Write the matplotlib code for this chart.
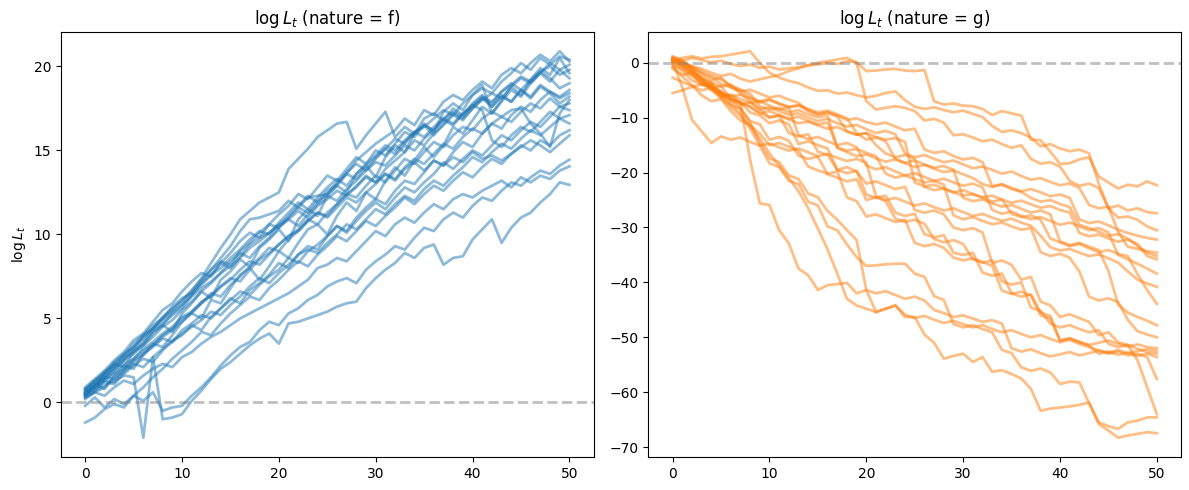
import numpy as np
import matplotlib
matplotlib.use("Agg")
import matplotlib.pyplot as plt

# log L_t paths, t = 0..50
t = np.arange(51)

paths_f = [
    [0.6, 1.0, 1.5, 2.1, 2.6, 3.2, 3.9, 4.4, 5.0, 5.5, 6.1, 6.6, 7.4, 8.3, 9.2, 10.0, 10.9, 11.4, 11.9, 12.2, 12.5,
     13.9, 14.5, 15.1, 15.8, 16.2, 16.6, 16.7, 15.1, 15.9, 16.6, 17.3, 15.8, 16.4, 16.0, 16.9, 17.2, 16.8, 17.5, 17.1, 17.8,
     18.3, 17.6, 18.2, 17.9, 18.6, 18.1, 18.8, 18.4, 17.8, 18.2],
    [0.5, 0.9, 1.6, 2.0, 2.5, 3.1, 3.5, 4.2, 4.6, 5.3, 5.8, 6.4, 7.2, 7.9, 8.6, 9.3, 10.2, 10.9, 11.0, 11.2, 11.4,
     12.0, 11.6, 12.2, 12.3, 12.4, 13.1, 13.6, 14.4, 14.9, 15.4, 15.8, 16.2, 16.9, 16.5, 17.4, 17.1, 17.9, 18.3, 18.0, 18.6,
     19.1, 18.7, 19.5, 19.9, 19.6, 20.2, 20.7, 20.3, 20.9, 20.3],
    [0.8, 1.3, 1.7, 2.4, 2.9, 3.3, 4.0, 4.6, 5.0, 5.7, 6.2, 6.5, 7.1, 7.6, 8.3, 8.0, 8.7, 9.4, 9.8, 10.1, 10.6,
     11.0, 11.6, 11.3, 12.0, 12.4, 12.9, 13.6, 13.3, 14.0, 14.6, 15.1, 14.8, 15.5, 16.1, 16.4, 16.9, 17.4, 17.1, 17.8, 18.3,
     18.7, 18.4, 19.1, 19.6, 20.2, 19.8, 20.5, 20.1, 20.6, 20.4],
    [0.5, 0.9, 1.4, 1.8, 2.3, 2.6, 3.2, 3.6, 4.1, 4.5, 5.1, 5.4, 6.0, 6.3, 6.9, 7.4, 7.2, 7.9, 8.5, 8.9, 9.4,
     9.9, 10.2, 10.8, 11.3, 11.1, 11.8, 12.4, 12.8, 13.5, 13.1, 13.9, 14.4, 14.9, 15.6, 15.3, 16.0, 16.5, 17.1, 16.8, 17.5,
     18.0, 18.4, 18.1, 18.8, 19.3, 19.0, 19.6, 20.2, 19.8, 20.1],
    [0.7, 1.2, 1.5, 2.1, 2.7, 3.0, 3.6, 4.3, 4.7, 5.2, 5.6, 6.3, 6.8, 7.2, 7.7, 8.4, 8.9, 8.6, 9.3, 9.8, 10.4,
     10.9, 10.5, 11.2, 11.8, 12.3, 12.0, 12.7, 13.2, 13.8, 14.3, 14.1, 14.7, 15.3, 15.0, 15.7, 16.2, 16.8, 16.5, 17.2, 17.6,
     18.1, 17.8, 18.5, 18.9, 19.4, 19.1, 19.7, 20.0, 19.5, 19.8],
    [0.4, 1.1, 0.8, 1.6, 2.2, 2.0, 2.9, 3.5, 3.3, 4.0, 4.8, 5.3, 5.0, 6.1, 5.9, 6.8, 7.6, 8.0, 7.3, 8.1, 9.0,
     8.6, 9.5, 10.3, 10.6, 10.0, 11.1, 11.9, 11.4, 12.5, 12.1, 13.2, 14.0, 13.5, 14.4, 15.2, 14.6, 15.3, 16.4, 16.0, 16.8,
     17.6, 17.2, 18.0, 18.8, 18.3, 19.2, 19.9, 19.5, 20.5, 19.6],
    [0.6, 1.0, 1.8, 2.3, 2.1, 3.0, 3.4, 4.1, 4.6, 4.2, 5.3, 5.9, 6.6, 6.2, 7.3, 7.8, 8.5, 8.1, 9.2, 9.7, 10.3,
     9.6, 10.9, 11.5, 11.1, 12.3, 12.9, 12.5, 13.6, 14.1, 13.4, 14.6, 15.3, 14.9, 16.0, 16.6, 16.1, 17.3, 17.8, 17.4, 18.3,
     18.9, 17.2, 17.9, 18.6, 18.2, 19.0, 19.6, 19.1, 19.8, 19.3],
    [0.5, 0.8, 1.2, 1.1, 1.7, 2.2, 2.6, 2.4, 3.1, 3.7, 4.0, 4.6, 4.3, 5.1, 5.6, 6.2, 5.9, 6.7, 7.1, 7.6, 8.3,
     8.0, 8.8, 9.3, 9.1, 9.9, 10.5, 10.2, 11.0, 11.6, 12.1, 11.8, 12.6, 13.2, 13.0, 13.7, 14.4, 14.1, 14.9, 15.5, 15.2,
     16.0, 16.6, 16.3, 17.1, 17.6, 17.3, 18.0, 18.5, 18.2, 18.6],
    [0.9, 1.4, 1.9, 2.5, 3.0, 3.7, 4.1, 4.8, 5.5, 5.9, 6.6, 7.2, 7.7, 7.5, 8.3, 8.9, 9.6, 10.1, 9.8, 10.6, 11.2,
     11.7, 12.4, 12.1, 12.8, 13.5, 13.2, 13.9, 14.6, 14.2, 15.0, 14.7, 15.4, 16.1, 15.8, 16.5, 15.9, 16.6, 17.2, 16.9, 17.5,
     18.1, 17.6, 18.3, 17.9, 18.6, 18.2, 18.9, 18.5, 18.1, 18.4],
    [0.3, 0.7, 1.3, 1.7, 2.0, 2.6, 3.1, 3.4, 4.0, 4.4, 5.0, 5.3, 5.9, 6.4, 6.9, 7.3, 7.9, 8.4, 8.2, 8.8, 9.4,
     9.9, 10.3, 10.9, 10.6, 11.3, 11.8, 12.4, 12.2, 12.9, 13.5, 13.1, 13.8, 14.5, 14.2, 14.9, 15.5, 15.2, 15.9, 16.4, 16.2,
     16.9, 17.3, 17.0, 17.4, 17.5, 16.6, 16.0, 15.2, 17.2, 18.0],
    [0.6, 1.0, 1.5, 1.4, 2.0, 2.5, 2.9, 3.3, 3.8, 3.6, 4.3, 4.7, 5.2, 5.0, 5.6, 6.1, 6.6, 6.4, 7.0, 7.5, 7.9,
     8.6, 8.3, 9.0, 9.4, 9.9, 10.5, 10.1, 10.8, 11.4, 11.9, 11.5, 12.2, 12.8, 12.5, 13.1, 13.6, 14.3, 13.9, 14.5, 15.0,
     14.7, 15.3, 15.9, 15.6, 16.2, 16.7, 16.4, 17.0, 17.6, 17.4],
    [0.7, 1.3, 1.8, 2.2, 2.8, 3.3, 3.8, 4.4, 4.9, 5.4, 5.8, 6.4, 7.0, 7.6, 8.0, 8.6, 9.1, 9.7, 10.2, 10.0, 10.7,
     11.3, 11.9, 11.5, 12.2, 12.8, 13.3, 12.9, 13.6, 14.2, 14.7, 15.3, 15.0, 15.6, 16.1, 15.8, 16.4, 16.9, 16.6, 17.2, 17.7,
     17.4, 15.6, 15.2, 15.9, 16.4, 16.1, 16.7, 17.3, 16.9, 17.1],
    [0.2, 0.6, 0.9, 1.5, 1.8, 2.3, 2.1, 2.7, 3.2, 3.6, 4.1, 4.5, 4.9, 5.4, 5.2, 5.8, 6.3, 6.9, 7.4, 7.1, 7.7,
     8.2, 8.8, 9.1, 8.9, 9.5, 10.0, 10.6, 10.3, 10.9, 11.5, 11.2, 11.8, 12.3, 12.0, 12.7, 13.2, 12.9, 13.5, 14.0, 14.6,
     14.3, 14.9, 15.4, 15.1, 15.7, 16.2, 15.9, 16.4, 16.9, 16.6],
    [0.5, 1.0, 1.4, 1.9, 2.5, 2.9, 3.4, 3.9, 4.5, 4.9, 5.5, 6.0, 6.6, 7.1, 7.7, 8.1, 8.6, 9.2, 9.6, 10.1, 10.5,
     10.9, 11.4, 11.0, 11.7, 12.1, 12.6, 12.3, 12.9, 13.4, 13.1, 13.6, 13.2, 13.9, 14.3, 13.8, 14.4, 14.1, 14.6, 14.3, 14.9,
     14.5, 14.7, 14.4, 14.8, 15.2, 15.6, 15.3, 14.9, 15.4, 15.9],
    [0.8, 1.2, 1.7, 2.3, 2.8, 3.5, 4.0, 4.4, 5.1, 5.6, 6.0, 6.7, 7.3, 7.9, 8.4, 8.2, 9.0, 9.5, 10.1, 10.6, 10.4,
     11.1, 11.7, 12.3, 11.9, 12.6, 13.0, 13.7, 14.2, 13.8, 14.5, 15.1, 15.7, 15.4, 16.0, 16.5, 16.2, 16.9, 17.3, 17.0, 17.7,
     18.2, 17.9, 18.5, 19.0, 18.6, 19.2, 19.7, 19.3, 18.7, 19.0],
    [0.4, 0.9, 1.3, 1.2, 1.9, 2.4, 2.8, 3.4, 3.9, 4.3, 4.8, 5.4, 5.9, 6.5, 6.3, 7.0, 7.5, 8.1, 8.6, 9.2, 9.0,
     9.7, 10.2, 10.8, 11.3, 11.0, 11.6, 12.2, 11.9, 12.5, 13.0, 13.6, 13.3, 14.0, 14.5, 14.2, 14.8, 15.4, 15.1, 15.8, 16.3,
     16.0, 16.6, 17.0, 16.7, 17.3, 17.8, 17.5, 18.1, 17.6, 17.8],
    [0.3, 0.6, 0.4, 0.9, 1.3, 1.1, 1.6, 2.0, 2.3, 2.1, 2.7, 3.0, 3.5, 3.9, 4.2, 4.6, 5.0, 5.3, 5.6, 5.9, 6.2,
     6.5, 6.9, 7.3, 8.0, 8.2, 8.6, 8.4, 9.0, 9.6, 10.2, 9.9, 10.6, 11.0, 10.7, 11.3, 11.8, 11.5, 12.1, 12.4, 12.2,
     12.6, 12.9, 13.2, 12.8, 13.4, 13.1, 13.5, 13.3, 13.8, 14.05],
    [-0.2, 0.3, -0.3, 0.2, -0.1, 0.4, 0.1, 0.6, -0.5, -0.3, -0.2, 0.4, 0.9, 1.5, 2.2, 2.8, 3.3, 3.6, 4.3, 4.8, 4.6,
     5.3, 5.6, 6.1, 6.4, 6.9, 7.2, 7.4, 7.1, 7.9, 8.4, 8.8, 9.3, 9.1, 9.8, 10.4, 10.2, 10.9, 11.3, 11.0, 11.7,
     12.2, 12.0, 12.6, 13.1, 12.9, 13.4, 13.8, 13.6, 14.1, 14.45],
    [-1.2, -0.9, -0.4, -0.1, -0.3, 0.4, 0.9, 1.5, 2.0, 2.6, 3.1, 3.6, 4.2, 4.0, 4.7, 5.3, 5.8, 6.3, 6.1, 6.8, 7.3,
     7.9, 8.4, 8.1, 8.8, 9.3, 9.9, 9.6, 10.2, 10.8, 10.5, 11.1, 11.6, 12.2, 11.8, 12.4, 12.9, 12.6, 13.2, 13.7, 13.4,
     14.0, 14.5, 14.2, 14.8, 15.3, 15.0, 15.6, 15.3, 15.9, 16.2],
    [0.4, 0.7, 1.0, 1.3, 1.6, 1.5, -2.1, 2.7, -1.0, -0.9, -0.7, 0.1, 0.7, 1.4, 2.0, 2.4, 2.9, 3.4, 3.8, 4.1, 3.5,
     4.7, 4.8, 5.0, 5.2, 5.4, 5.7, 5.9, 6.0, 6.8, 7.4, 7.9, 8.3, 8.9, 8.6, 9.2, 9.4, 8.2, 8.6, 8.7, 9.7,
     10.3, 10.9, 9.5, 10.4, 11.0, 11.3, 11.9, 12.4, 13.1, 12.95],
]

paths_g = [
    [0.6, 0.3, 0.9, 0.5, 0.1, 0.4, -0.2, -0.6, -0.3, -0.9, -0.7, -1.2, -1.0, -0.8, -0.5, -0.3, 0.0, -0.2, 0.3, 0.1, -1.5,
     -1.4, -1.2, -1.1, -1.4, -1.5, -1.3, -7.0, -7.6, -7.4, -7.8, -7.9, -8.4, -9.5, -8.8, -9.2, -9.6, -14.0, -14.1, -16.2, -18.4,
     -18.3, -17.6, -17.2, -20.7, -21.8, -22.9, -22.2, -22.5, -21.6, -22.3],
    [0.4, 0.9, 1.2, 0.8, 1.1, 1.2, 1.5, 1.8, 2.1, 0.0, -1.8, -2.7, -3.3, -3.7, -4.5, -5.1, -5.0, -5.6, -5.4, -5.9, -6.3,
     -6.0, -5.5, -5.2, -6.8, -8.0, -8.4, -8.1, -8.6, -9.0, -8.7, -9.3, -9.9, -11.5, -12.6, -12.3, -12.8, -13.6, -15.2, -14.8, -15.6,
     -16.1, -15.8, -16.5, -22.0, -26.5, -26.0, -26.9, -26.5, -27.2, -27.4],
    [0.5, 0.0, -0.6, -1.1, -1.8, -2.4, -2.0, -2.9, -3.4, -3.0, -2.6, -2.2, -1.5, -1.0, -0.4, 0.0, 0.3, 0.6, 0.9, 0.0, -7.0,
     -8.5, -8.2, -7.9, -8.2, -8.8, -10.5, -10.2, -10.9, -13.2, -13.0, -13.6, -14.3, -14.0, -14.8, -15.5, -15.0, -17.5, -18.4, -18.1, -18.9,
     -21.5, -22.4, -22.0, -22.8, -26.5, -28.2, -28.0, -28.6, -29.8, -30.5],
    [-2.7, -3.5, -4.2, -5.0, -4.6, -5.4, -6.1, -5.8, -6.5, -7.2, -6.8, -7.5, -8.1, -7.8, -8.6, -9.3, -9.0, -9.6, -10.4, -10.1, -10.8,
     -11.2, -10.9, -11.6, -12.3, -12.0, -15.8, -16.4, -16.1, -17.0, -17.6, -17.3, -18.1, -22.5, -22.1, -22.8, -23.4, -23.0, -23.6, -24.3, -24.0,
     -24.6, -28.5, -29.2, -28.9, -29.6, -30.4, -31.0, -31.5, -31.9, -32.2],
    [-5.5, -5.0, -4.4, -3.9, -4.6, -5.3, -6.9, -7.6, -7.2, -8.5, -8.1, -8.8, -9.5, -9.2, -10.0, -10.6, -10.2, -11.0, -11.6, -11.3, -12.1,
     -12.8, -12.4, -13.0, -16.5, -17.2, -16.8, -17.5, -18.1, -17.8, -18.5, -19.2, -18.9, -19.5, -20.2, -19.8, -20.6, -21.3, -21.0, -21.7, -22.3,
     -22.0, -22.8, -25.9, -26.5, -26.2, -30.8, -33.5, -33.9, -34.3, -34.6],
    [0.3, -0.5, -1.4, -2.8, -3.5, -4.3, -4.0, -4.9, -5.6, -7.9, -8.5, -8.2, -9.0, -8.6, -9.4, -9.9, -9.6, -15.5, -16.3, -17.0, -16.7,
     -17.4, -18.0, -17.6, -18.3, -19.0, -18.6, -19.3, -19.9, -19.6, -20.3, -21.0, -22.1, -22.6, -22.2, -23.0, -23.5, -24.6, -25.3, -25.0, -25.7,
     -26.3, -29.5, -30.1, -30.8, -31.5, -31.2, -32.0, -33.4, -34.6, -35.2],
    [0.8, 0.2, -0.7, -1.5, -2.3, -3.0, -4.1, -5.6, -7.0, -8.4, -9.9, -9.6, -10.3, -11.0, -10.7, -11.4, -12.0, -11.7, -12.5, -13.1, -12.8,
     -13.5, -14.0, -13.7, -14.4, -21.8, -22.5, -22.2, -22.9, -23.6, -23.2, -23.9, -24.5, -24.2, -24.9, -25.5, -25.1, -25.8, -26.4, -26.1, -26.8,
     -27.3, -31.0, -31.6, -31.3, -32.0, -32.6, -32.2, -33.0, -35.2, -35.8],
    [1.0, 0.4, -1.2, -3.0, -4.6, -6.2, -5.8, -6.6, -7.3, -7.0, -7.8, -8.5, -8.1, -13.2, -13.9, -13.5, -14.3, -15.0, -14.6, -15.4, -18.7,
     -19.4, -19.0, -19.8, -20.5, -20.1, -20.8, -21.5, -21.1, -21.8, -22.4, -22.0, -22.7, -26.8, -27.5, -27.1, -27.9, -28.5, -28.1, -28.8, -29.5,
     -29.1, -29.8, -30.5, -30.1, -30.9, -35.0, -35.8, -36.6, -37.5, -38.4],
    [0.2, -4.5, -10.4, -12.5, -14.6, -13.4, -14.0, -13.6, -14.4, -15.1, -14.7, -15.4, -16.0, -15.6, -16.3, -17.0, -16.6, -17.3, -17.9, -17.5, -18.2,
     -24.3, -25.0, -24.6, -25.3, -26.0, -25.6, -26.3, -26.9, -26.5, -27.2, -27.9, -27.5, -28.2, -28.8, -28.4, -29.1, -29.7, -31.5, -33.6, -34.2,
     -33.9, -34.6, -35.2, -34.9, -35.6, -36.4, -38.0, -39.5, -40.2, -40.8],
    [0.5, -0.2, -1.0, -1.9, -2.6, -3.8, -4.5, -5.2, -4.9, -5.6, -6.3, -6.0, -6.7, -7.3, -8.8, -9.5, -9.1, -9.8, -12.5, -13.1, -12.8,
     -15.0, -16.5, -17.2, -16.8, -17.5, -22.6, -23.2, -22.9, -23.6, -24.2, -23.9, -24.6, -25.3, -24.9, -27.5, -28.1, -27.8, -28.6, -32.0, -32.7,
     -33.4, -33.0, -33.8, -34.5, -34.1, -34.8, -35.2, -38.5, -41.4, -43.9],
    [0.7, 0.1, -0.8, -2.0, -3.1, -2.7, -4.4, -5.0, -6.3, -7.0, -6.6, -7.4, -8.0, -7.7, -8.4, -9.0, -8.7, -9.4, -10.1, -12.8, -14.0,
     -13.6, -14.3, -17.5, -18.2, -17.8, -18.5, -19.1, -18.8, -19.5, -24.6, -25.2, -24.9, -25.6, -26.2, -25.9, -26.6, -27.3, -26.9, -27.6, -32.5,
     -33.2, -32.8, -33.5, -34.1, -37.9, -44.0, -45.5, -46.3, -47.0, -47.8],
    [0.4, -0.9, -2.2, -3.5, -4.1, -5.8, -6.5, -7.3, -8.0, -9.2, -8.8, -9.5, -10.2, -9.8, -10.6, -11.2, -10.9, -15.4, -16.0, -15.7, -16.4,
     -17.0, -20.2, -20.9, -20.5, -21.2, -21.8, -21.5, -22.2, -27.8, -28.5, -28.1, -28.8, -29.4, -29.1, -29.8, -30.4, -30.1, -34.5, -35.2, -34.8,
     -35.5, -38.0, -42.6, -43.3, -42.9, -43.6, -46.8, -48.9, -49.5, -50.0],
    [-1.0, -2.2, -1.8, -3.9, -4.6, -4.2, -6.5, -7.2, -9.0, -9.6, -11.0, -10.5, -11.2, -14.8, -14.3, -15.0, -15.6, -19.5, -19.0, -19.8, -22.0,
     -21.6, -22.3, -23.0, -22.6, -26.8, -27.3, -26.9, -27.6, -30.0, -30.5, -30.1, -30.9, -36.5, -36.0, -36.8, -39.5, -39.0, -43.5, -44.2, -46.3,
     -45.8, -46.5, -47.2, -49.6, -49.1, -50.9, -51.4, -54.2, -59.1, -64.0],
    [0.1, -1.5, -3.2, -4.0, -3.6, -5.8, -7.7, -8.3, -10.6, -11.2, -14.0, -13.5, -14.2, -16.9, -17.5, -17.1, -20.3, -20.9, -21.6, -21.2, -25.0,
     -24.5, -25.2, -28.4, -29.0, -28.6, -29.3, -32.1, -32.7, -32.3, -33.0, -35.8, -36.4, -36.0, -39.8, -40.4, -40.0, -44.6, -45.2, -47.5, -48.2,
     -47.8, -48.5, -49.1, -48.7, -51.2, -51.8, -51.4, -52.1, -52.7, -53.0],
    [-0.8, -2.5, -4.1, -5.9, -7.0, -6.6, -8.8, -10.5, -11.3, -12.9, -15.0, -14.6, -15.3, -16.0, -18.9, -19.6, -20.2, -19.8, -24.5, -25.2, -28.0,
     -27.6, -28.3, -29.0, -28.6, -32.8, -33.4, -33.0, -33.7, -35.5, -36.0, -35.6, -36.3, -37.0, -41.5, -42.1, -41.7, -42.4, -46.0, -46.6, -50.6,
     -50.2, -50.9, -51.5, -53.0, -52.6, -53.2, -52.8, -53.4, -53.0, -53.6],
    [1.2, 0.5, -1.3, -2.9, -4.8, -6.5, -8.1, -9.7, -11.5, -13.8, -16.5, -18.8, -21.0, -23.4, -26.5, -30.2, -34.0, -38.4, -43.0, -44.2, -44.8,
     -45.4, -44.8, -44.2, -45.9, -46.5, -46.1, -46.8, -47.4, -47.0, -47.6, -48.2, -47.8, -48.5, -49.1, -48.7, -49.4, -50.0, -49.6, -50.3, -50.9,
     -50.5, -51.2, -51.8, -52.4, -53.0, -52.6, -53.3, -53.0, -53.6, -57.6],
    [0.3, -0.6, -1.8, -2.5, -3.9, -5.2, -6.8, -8.3, -10.9, -14.5, -17.4, -18.1, -20.5, -21.2, -23.8, -24.5, -27.0, -28.6, -30.5, -32.3, -41.4,
     -42.0, -41.6, -42.3, -43.0, -42.6, -43.3, -45.0, -45.6, -46.3, -46.0, -46.6, -47.2, -46.9, -47.5, -52.0, -52.6, -52.2, -52.9, -53.5, -53.1,
     -52.7, -53.3, -52.9, -52.4, -52.8, -52.3, -52.9, -52.5, -52.2, -52.5],
    [0.9, -0.4, -2.0, -3.3, -5.0, -6.1, -7.5, -9.2, -12.0, -15.1, -18.3, -19.0, -21.5, -22.1, -25.3, -26.0, -29.8, -30.5, -33.1, -35.4, -37.0,
     -36.9, -36.7, -36.6, -36.6, -38.4, -39.0, -42.5, -43.2, -47.6, -48.2, -47.8, -48.5, -49.1, -52.3, -52.9, -55.5, -56.1, -55.7, -56.4, -58.5,
     -58.1, -58.2, -62.0, -65.5, -66.2, -66.7, -65.5, -65.2, -64.6, -64.6],
    [0.6, -0.3, -1.5, -3.0, -4.2, -5.5, -6.0, -7.3, -17.7, -25.6, -25.9, -30.5, -32.9, -37.5, -38.7, -41.4, -40.5, -40.3, -40.1, -42.0, -41.4,
     -45.4, -44.8, -44.2, -46.3, -46.3, -49.5, -51.0, -53.9, -53.4, -53.0, -54.5, -53.6, -56.3, -56.0, -56.7, -57.5, -59.4, -63.4, -63.0, -62.8,
     -62.6, -62.3, -61.9, -65.8, -67.0, -68.3, -67.9, -67.6, -67.3, -67.5],
    [-0.5, -1.1, -2.4, -3.8, -4.4, -5.9, -6.6, -7.2, -8.0, -9.1, -10.0, -9.6, -12.8, -13.4, -13.0, -16.2, -16.8, -19.5, -20.1, -19.7, -24.0,
     -24.6, -24.2, -27.3, -27.9, -27.5, -31.2, -31.8, -31.4, -34.6, -35.0, -34.6, -38.2, -38.8, -38.4, -42.0, -42.6, -42.2, -45.5, -46.1, -50.6,
     -50.2, -50.8, -51.4, -51.0, -50.6, -51.2, -51.7, -51.3, -51.8, -52.0],
]

fig, axes = plt.subplots(1, 2, figsize=(11.89, 4.9))
plt.subplots_adjust(left=0.0513, right=0.9933, bottom=0.0673, top=0.9347, wspace=0.103)

ax = axes[0]
for p in paths_f:
    ax.plot(t, p, color='C0', alpha=0.5, lw=2)
ax.axhline(0, color='gray', ls='--', lw=2, alpha=0.5)
ax.set_title(r'$\log L_t$ (nature = f)')
ax.set_ylabel(r'$\log L_t$')

ax = axes[1]
for p in paths_g:
    ax.plot(t, p, color='C1', alpha=0.5, lw=2)
ax.axhline(0, color='gray', ls='--', lw=2, alpha=0.5)
ax.set_title(r'$\log L_t$ (nature = g)')

plt.savefig('out.png', dpi=100)
